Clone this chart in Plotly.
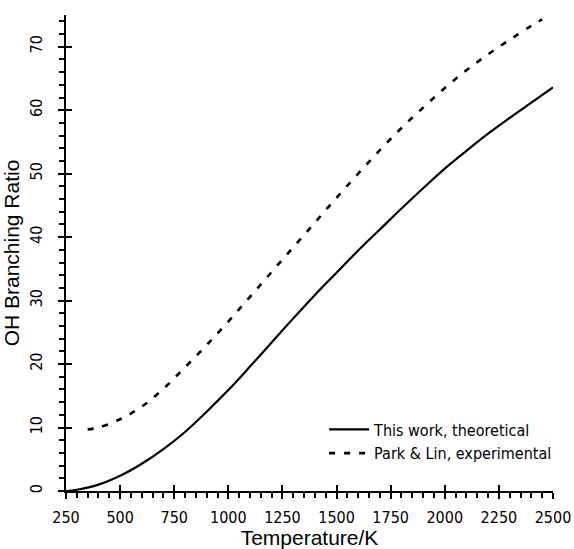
import plotly.graph_objects as go

# Theoretical (this work)
T_theory = [250, 300, 400, 500, 600, 700, 800, 900, 1000, 1100, 1200, 1300, 1400,
            1500, 1600, 1700, 1800, 1900, 2000, 2100, 2200, 2300, 2400, 2500]
R_theory = [0.0, 0.2, 1.0, 2.4, 4.3, 6.6, 9.3, 12.5, 15.9, 19.6, 23.4, 27.2, 30.9,
            34.4, 37.9, 41.2, 44.5, 47.7, 50.8, 53.6, 56.3, 58.8, 61.2, 63.6]

# Park & Lin, experimental
T_exp = [350, 400, 500, 600, 700, 800, 900, 1000, 1100, 1200, 1300, 1400, 1500,
         1600, 1700, 1800, 1900, 2000, 2100, 2200, 2300, 2400, 2450]
R_exp = [9.7, 10.0, 11.3, 13.3, 16.1, 19.5, 23.0, 26.7, 30.6, 34.5, 38.4, 42.3, 46.2,
         50.0, 53.7, 57.2, 60.4, 63.5, 66.3, 68.8, 71.1, 73.3, 74.3]

X_TICK0, X_DTICK, X_MINOR = 250, 250, 50
Y_TICK0, Y_DTICK, Y_MINOR = 0, 10, 2

XR = [250, 2500]
YR = [0, 75]

tick_font = dict(family="DejaVu Sans Condensed, DejaVu Sans", size=16, color="black")
title_font = dict(family="Liberation Sans, Arial", size=21, color="black")

fig = go.Figure()
fig.add_trace(go.Scatter(x=T_theory, y=R_theory, mode="lines", name="This work, theoretical",
                         line=dict(color="black", width=2.2, shape="spline")))
fig.add_trace(go.Scatter(x=T_exp, y=R_exp, mode="lines", name="Park & Lin, experimental",
                         line=dict(color="black", width=2.6, dash="6px,9px", shape="spline")))
# invisible trace on overlay axes (for inward halves of the major ticks)
fig.add_trace(go.Scatter(x=[None], y=[None], xaxis="x2", yaxis="y2", showlegend=False,
                         hoverinfo="skip"))

fig.update_layout(
    width=574, height=549,
    margin=dict(l=66, r=21, t=15, b=58),
    paper_bgcolor="white", plot_bgcolor="white",
    showlegend=True,
    legend=dict(x=0.53, y=0.165, xanchor="left", yanchor="top",
                font=tick_font, bgcolor="rgba(0,0,0,0)", tracegroupgap=0,
                itemwidth=40),
    xaxis=dict(range=XR, tick0=X_TICK0, dtick=X_DTICK, ticks="outside", ticklen=6, tickwidth=1.5,
               tickcolor="black", showline=True, linecolor="black", linewidth=1.5,
               showgrid=False, zeroline=False, tickfont=tick_font, automargin=False,
               ticklabelstandoff=5,
               minor=dict(tick0=X_TICK0, dtick=X_MINOR, ticks="outside", ticklen=5,
                          tickwidth=1.5, tickcolor="black", showgrid=False),
               title=dict(text="Temperature/K", font=title_font, standoff=4)),
    yaxis=dict(range=YR, tick0=Y_TICK0, dtick=Y_DTICK, ticks="outside", ticklen=6, tickwidth=1.5,
               tickcolor="black", showline=True, linecolor="black", linewidth=1.5,
               showgrid=False, zeroline=False, tickfont=tick_font, tickangle=-90,
               ticklabelstandoff=10, automargin=False,
               minor=dict(tick0=Y_TICK0, dtick=Y_MINOR, ticks="outside", ticklen=5,
                          tickwidth=1.5, tickcolor="black", showgrid=False),
               title=dict(text="OH Branching Ratio", font=title_font, standoff=2)),
    xaxis2=dict(range=XR, overlaying="x", tick0=X_TICK0, dtick=X_DTICK, ticks="inside", ticklen=6,
                tickwidth=1.5, tickcolor="black", showticklabels=False, showgrid=False,
                zeroline=False, showline=False, side="bottom", automargin=False),
    yaxis2=dict(range=YR, overlaying="y", tick0=Y_TICK0, dtick=Y_DTICK, ticks="inside", ticklen=6,
                tickwidth=1.5, tickcolor="black", showticklabels=False, showgrid=False,
                zeroline=False, showline=False, side="left", automargin=False),
)

fig.write_html("out.html")
